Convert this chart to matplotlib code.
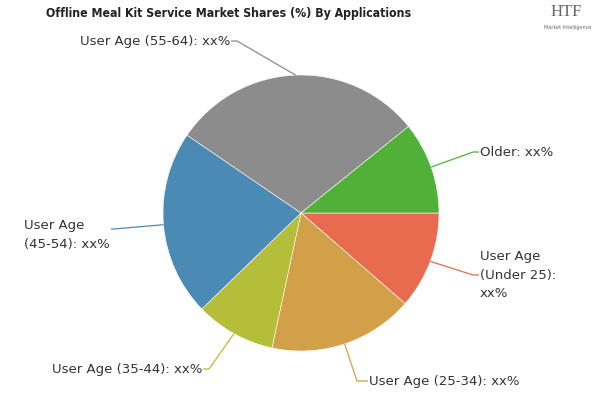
import numpy as np
import matplotlib
matplotlib.use("Agg")
import matplotlib.pyplot as plt
from matplotlib import font_manager as fm

categories = ["User Age\n(Under 25):\nxx%", "User Age (25-34): xx%", "User Age (35-44): xx%",
              "User Age\n(45-54): xx%", "User Age (55-64): xx%", "Older: xx%"]
shares = [11.4, 17.0, 9.4, 21.8, 29.7, 10.8]
colors = ["#E86A4F", "#D2A048", "#B5BE38", "#4A8AB5", "#8C8C8C", "#50B038"]

title = "Offline Meal Kit Service Market Shares (%) By Applications"

W, H = 600, 400
fig = plt.figure(figsize=(6, 4), dpi=100)
ax = fig.add_axes([0, 0, 1, 1])

cx, cy, R = 301, H - 213, 138
wedges, _ = ax.pie(shares, colors=colors, startangle=0, counterclock=False,
                   center=(cx, cy), radius=R, frame=True,
                   wedgeprops=dict(edgecolor="white", linewidth=0.4))
ax.set_xlim(0, W)
ax.set_ylim(0, H)
ax.set_aspect("equal")
ax.axis("off")

# elbow point (pixels from top-left), side, horizontal segment length
elbows = [(473, 275), (357, 381), (209, 369), (114, 229), (237, 41), (473, 152)]
sides = [1, 1, -1, -1, -1, 1]
hlen = [6, 11, 6, 3, 6, 6]

for w, (ex, ey), side, hl, lab, col in zip(wedges, elbows, sides, hlen, categories, colors):
    ang = np.deg2rad((w.theta1 + w.theta2) / 2)
    px = cx + R * np.cos(ang)
    py = cy + R * np.sin(ang)
    ey2 = H - ey
    hx = ex + hl * side
    ax.plot([px, ex, hx], [py, ey2, ey2], color=col, lw=0.9, solid_capstyle="butt")
    tx = hx + 1 * side
    if lab.startswith("User Age\n(Under"):
        ax.text(tx, ey2, lab, ha="left", va="center", fontsize=9.5, color="#333333",
                linespacing=1.55, family="DejaVu Sans")
    elif lab.startswith("User Age\n(45"):
        ax.text(24, ey2 - 6, lab, ha="left", va="center", fontsize=9.5, color="#333333",
                linespacing=1.55, family="DejaVu Sans")
    else:
        ax.text(tx, ey2, lab, ha="left" if side > 0 else "right", va="center",
                fontsize=9.5, color="#333333", family="DejaVu Sans")

# pick a narrow bold family if present
title_family = "DejaVu Sans"
title_stretch = "normal"
for fam, st in [("Liberation Sans Narrow", "normal"), ("DejaVu Sans", "condensed"),
                ("Roboto Condensed", "normal")]:
    try:
        p = fm.findfont(fm.FontProperties(family=fam, weight="bold", stretch=st),
                        fallback_to_default=False)
        if ("Narrow" in p or "Condensed" in p):
            title_family, title_stretch = fam, st
            break
    except Exception:
        pass

t = ax.text(229, H - 13, title, ha="center", va="center", fontsize=12, fontweight="bold",
            color="#222222", family=title_family, stretch=title_stretch)
fig.canvas.draw()
bb = t.get_window_extent(fig.canvas.get_renderer())
t.set_fontsize(12 * min(1.0, 365.0 / bb.width))

# logo
ax.text(566, H - 12, "HTF", ha="center", va="center", fontsize=12, color="#666666",
        family="Liberation Serif")
ax.text(568, H - 27, "Market Intelligence", ha="center", va="center", fontsize=3.5,
        color="#666666", family="DejaVu Sans")

fig.savefig("out.png", dpi=100)
